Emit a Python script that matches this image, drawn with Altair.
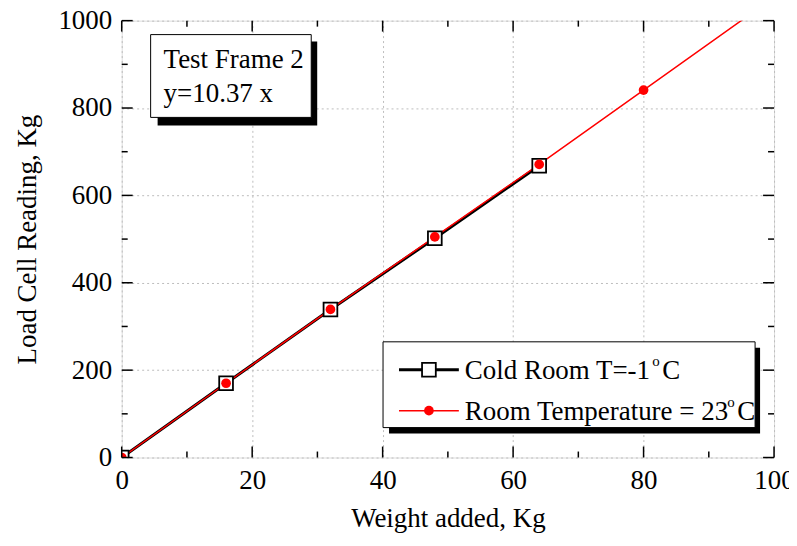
import altair as alt
import pandas as pd

# ---- data ----
cold_weight = [0, 16, 32, 48, 64]
cold_load = [0, 170, 339, 502, 668]

room_weight = [0, 16, 32, 48, 64, 80]
room_load = [0, 170, 339, 505, 671, 841]
# red line continues past the last point (clipped at the top of the frame)
room_line_weight = [0, 16, 32, 48, 64, 80, 96]
room_line_load = [0, 170, 339, 505, 671, 841, 1011]

x_major = [0, 20, 40, 60, 80, 100]
x_minor = [10, 30, 50, 70, 90]
y_major = [0, 200, 400, 600, 800, 1000]
y_minor = [100, 300, 500, 700, 900]

FONT = "Liberation Serif"
W, H = 654, 438
XD = [0, 100]
YD = [0, 1000]

cold = pd.DataFrame({"w": cold_weight, "l": cold_load})
room = pd.DataFrame({"w": room_weight, "l": room_load})
room_line = pd.DataFrame({"w": room_line_weight, "l": room_line_load})
one = pd.DataFrame({"a": [0]})

xs = alt.Scale(domain=XD, nice=False)
ys = alt.Scale(domain=YD, nice=False)

x_axis = alt.Axis(values=x_major, format="d", grid=True, gridDash=[2, 3], gridColor="#bdbdbd",
                  ticks=False, domain=False, labelFont=FONT, labelFontSize=27,
                  labelColor="black", labelPadding=10, labelFlush=False,
                  labelOverlap=False, title="Weight added, Kg", titleFont=FONT,
                  titleFontSize=27, titleFontWeight="normal", titleColor="black",
                  titlePadding=12)
y_axis = alt.Axis(values=y_major, format="d", grid=True, gridDash=[2, 3], gridColor="#bdbdbd",
                  ticks=False, domain=False, labelFont=FONT, labelFontSize=27,
                  labelColor="black", labelPadding=10, labelFlush=False,
                  labelOverlap=False, title="Load Cell Reading, Kg", titleFont=FONT,
                  titleFontSize=27, titleFontWeight="normal", titleColor="black",
                  titlePadding=16)

base_cold = alt.Chart(cold)
cold_line = base_cold.mark_line(color="black", strokeWidth=3, clip=True).encode(
    x=alt.X("w:Q", scale=xs, axis=x_axis),
    y=alt.Y("l:Q", scale=ys, axis=y_axis),
)
cold_pts = base_cold.mark_point(shape="square", size=190, filled=True, fill="white",
                                stroke="black", strokeWidth=1.8, opacity=1,
                                clip=True).encode(
    x=alt.X("w:Q", scale=xs), y=alt.Y("l:Q", scale=ys))

red_line = alt.Chart(room_line).mark_line(color="#ff0000", strokeWidth=1.5,
                                          clip=True).encode(
    x=alt.X("w:Q", scale=xs), y=alt.Y("l:Q", scale=ys))
red_pts = alt.Chart(room).mark_point(shape="circle", size=95, filled=True,
                                     color="#ff0000", opacity=1, clip=True).encode(
    x=alt.X("w:Q", scale=xs), y=alt.Y("l:Q", scale=ys))

# inward ticks on all four sides
def xticks(vals, length):
    d = pd.DataFrame({"v": vals})
    bot = alt.Chart(d).mark_rule(color="black", strokeWidth=1.5).encode(
        x=alt.X("v:Q", scale=xs), y=alt.value(H), y2=alt.value(H - length))
    top = alt.Chart(d).mark_rule(color="black", strokeWidth=1.5).encode(
        x=alt.X("v:Q", scale=xs), y=alt.value(0), y2=alt.value(length))
    return [bot, top]

def yticks(vals, length):
    d = pd.DataFrame({"v": vals})
    left = alt.Chart(d).mark_rule(color="black", strokeWidth=1.5).encode(
        y=alt.Y("v:Q", scale=ys), x=alt.value(0), x2=alt.value(length))
    right = alt.Chart(d).mark_rule(color="black", strokeWidth=1.5).encode(
        y=alt.Y("v:Q", scale=ys), x=alt.value(W), x2=alt.value(W - length))
    return [left, right]

ticks = xticks(x_major, 11) + xticks(x_minor, 6) + yticks(y_major, 11) + yticks(y_minor, 6)

# annotation box
def rect(x1, x2, y1, y2, fill, stroke=None):
    kw = dict(fill=fill)
    if stroke:
        kw.update(stroke=stroke, strokeWidth=1)
    return alt.Chart(one).mark_rect(**kw).encode(
        x=alt.value(x1), x2=alt.value(x2), y=alt.value(y1), y2=alt.value(y2))

def text(s, x, y, size=27, align="left", color="black"):
    return alt.Chart(one).mark_text(text=s, font=FONT, fontSize=size, align=align,
                                    baseline="middle", color=color).encode(
        x=alt.value(x), y=alt.value(y))

note = [
    rect(36, 196, 21, 105, "black"),
    rect(29, 190, 14, 97, "white", "black"),
    text("Test Frame 2", 42, 39),
    text("y=10.37 x", 42, 74),
]

legend = [
    rect(268, 640, 328, 414, "black"),
    rect(262, 635, 322, 408, "white", "black"),
    alt.Chart(one).mark_rule(color="black", strokeWidth=3).encode(
        x=alt.value(278), x2=alt.value(338), y=alt.value(350)),
    alt.Chart(one).mark_point(shape="square", size=190, filled=True, fill="white",
                              stroke="black", strokeWidth=1.8, opacity=1).encode(
        x=alt.value(308), y=alt.value(350)),
    text("Cold Room T=-1", 344, 351),
    text("o", 532, 341, size=15),
    text("C", 542, 351),
    alt.Chart(one).mark_rule(color="#ff0000", strokeWidth=1.5).encode(
        x=alt.value(278), x2=alt.value(338), y=alt.value(391)),
    alt.Chart(one).mark_point(shape="circle", size=95, filled=True, color="#ff0000",
                              opacity=1).encode(x=alt.value(308), y=alt.value(391)),
    text("Room Temperature = 23", 344, 392),
    text("o", 607, 382, size=15),
    text("C", 617, 392),
]

chart = alt.layer(cold_line, red_line, cold_pts, red_pts, *ticks, *note, *legend).properties(
    width=W, height=H,
    padding={"left": 114, "top": 12, "right": 15, "bottom": 78},
    autosize=alt.AutoSizeParams(type="none"),
).configure_view(stroke="black", strokeWidth=2).configure(background="white")

chart.save("out.html", embed_options={"renderer": "svg", "actions": False})
